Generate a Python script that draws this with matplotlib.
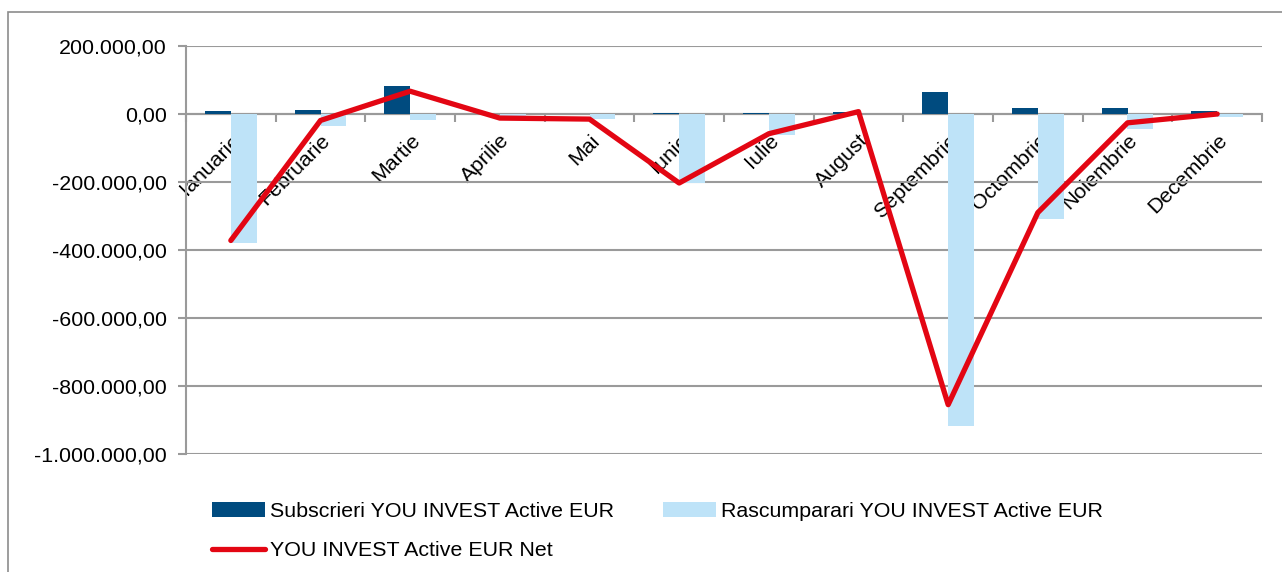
import matplotlib
matplotlib.use("Agg")
import matplotlib.pyplot as plt
from matplotlib.ticker import FuncFormatter, FixedLocator
from matplotlib.patches import Rectangle
import numpy as np

months = ["Ianuarie", "Februarie", "Martie", "Aprilie", "Mai", "Iunie",
          "Iulie", "August", "Septembrie", "Octombrie", "Noiembrie", "Decembrie"]
subscrieri = [8000, 13000, 83000, 500, 1000, 1500, 3000, 7000, 64000, 17000, 18000, 9000]
rascumparari = [-380000, -34000, -18000, -13000, -16000, -204000, -62000, -1000,
                -917000, -308000, -43000, -8000]
net = [-372000, -19000, 67000, -12000, -15000, -203000, -58000, 7000,
       -855000, -290000, -26000, 0]
yticks = [200000, 0, -200000, -400000, -600000, -800000, -1000000]

plt.rcParams['font.family'] = ['Liberation Sans', 'DejaVu Sans']
FS = 15.4

W, H = 1282, 572
fig = plt.figure(figsize=(W / 100, H / 100), dpi=100)

# outer chart border (top and left visible)
fig.patches.append(Rectangle((8 / W, -0.1), 1.2, 1 - 12 / H + 0.1, transform=fig.transFigure,
                             fill=False, edgecolor='#8c8c8c', linewidth=1.2, clip_on=False))

ax = fig.add_axes([186 / W, 1 - 454 / H, (1262 - 186) / W, (454 - 46) / H])

x = np.arange(len(months))
bw = 0.287
dark = '#004B7F'
light = '#BEE3F8'
red = '#E30613'
grid = '#9a9a9a'

b1 = ax.bar(x - bw / 2, subscrieri, width=bw, color=dark, zorder=3)
b2 = ax.bar(x + bw / 2, rascumparari, width=bw, color=light, zorder=3)
ln, = ax.plot(x, net, color=red, linewidth=3.8, solid_capstyle='round', solid_joinstyle='round',
              zorder=4)

ax.set_xlim(-0.5, len(months) - 0.5)
ax.set_ylim(-1000000, 200000)
ax.set_yticks(yticks)


def fmt(v, pos=None):
    s = f"{abs(v):,.2f}".replace(',', 'X').replace('.', ',').replace('X', '.')
    return ('-' if v < 0 else '') + s


ax.yaxis.set_major_formatter(FuncFormatter(fmt))
ax.yaxis.grid(True, color=grid, linewidth=1.5, zorder=0)
ax.set_axisbelow(True)

for s in ['top', 'right']:
    ax.spines[s].set_visible(False)
ax.spines['left'].set_color(grid)
ax.spines['left'].set_linewidth(1.5)
ax.spines['bottom'].set_position(('data', 0))
ax.spines['bottom'].set_color(grid)
ax.spines['bottom'].set_linewidth(1.5)
ax.spines['bottom'].set_zorder(2)

ax.set_xticks(x)
ax.set_xticklabels(months, rotation=45, ha='right', va='top', rotation_mode='anchor')
ax.xaxis.set_minor_locator(FixedLocator(np.arange(-0.5, len(months), 1.0)))
ax.tick_params(axis='x', which='major', length=0, pad=12, labelsize=FS)
ax.tick_params(axis='x', which='minor', length=6, width=1.5, color=grid, direction='out')
ax.tick_params(axis='y', length=6, width=1.5, color=grid, labelsize=FS, pad=8)

handles = [b1, ln, b2]
labels = ['Subscrieri YOU INVEST Active EUR', 'YOU INVEST Active EUR Net',
          'Rascumparari YOU INVEST Active EUR']
fig.legend(handles, labels, ncol=2, frameon=False,
           loc='upper left', bbox_to_anchor=(212 / W, 1 - 502 / H), fontsize=FS,
           handlelength=2.5, handletextpad=0.2, columnspacing=2.3, labelspacing=0.95,
           borderaxespad=0, borderpad=0)

fig.savefig('out.png', dpi=100, facecolor='white')
